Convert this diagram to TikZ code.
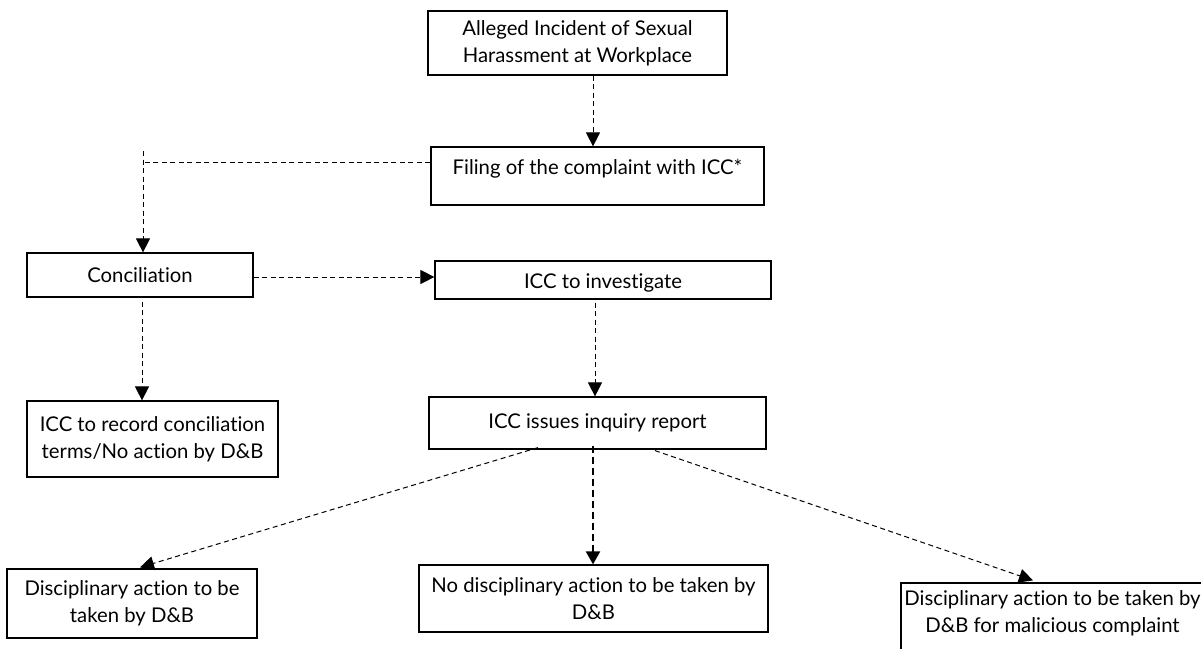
\documentclass[tikz,border=0pt]{standalone}
\usepackage{fontspec}
\setmainfont{Lato}[Ligatures=NoCommon]
\usetikzlibrary{arrows.meta,calc}
\begin{document}
\begin{tikzpicture}[x=1pt,y=-1pt,
  box/.style={draw, line width=1.2pt, rectangle, inner sep=0pt, align=center,
    font=\fontsize{20.3}{27}\selectfont},
  txt/.style={inner sep=0pt, align=center, font=\fontsize{20.3}{27}\selectfont},
  dsh/.style={line width=1pt, dash pattern=on 5pt off 3.5pt},
  arr/.style={dsh, -{Triangle[length=14pt,width=14pt]}},
  arrthick/.style={line width=2pt, dash pattern=on 7pt off 4pt, -{Triangle[length=13pt,width=14pt]}},
]
\useasboundingbox (0,0) rectangle (1201,648);
% boxes
\node[box, minimum width=299pt, minimum height=64pt] (A) at (577.5,43) {Alleged Incident of Sexual\\Harassment at Workplace};
\node[box, minimum width=333pt, minimum height=58pt] (B) at (597.5,176) {};
\node[txt] (Bt) at (597.5,169) {Filing of the complaint with ICC*};
\node[box, minimum width=226pt, minimum height=44pt] (C) at (140,275) {Conciliation};
\node[box, minimum width=336pt, minimum height=38pt] (D) at (603,280) {};
\node[txt] (Dt) at (603,283) {ICC to investigate};
\node[box, minimum width=251pt, minimum height=76pt] (E) at (152.5,439) {ICC to record conciliation\\terms/No action by D\&B};
\node[box, minimum width=337pt, minimum height=52pt] (F) at (597.5,423) {ICC issues inquiry report};
\node[box, minimum width=250pt, minimum height=69pt] (G) at (132,603.5) {Disciplinary action to be\\taken by D\&B};
\node[box, minimum width=349pt, minimum height=67pt] (H) at (593.5,598.5) {No disciplinary action to be taken by\\D\&B};
\node[box, minimum width=400pt, minimum height=90pt] (I) at (1101,628) {};
\node[txt] (It) at (1052.5,613) {Disciplinary action to be taken by\\D\&B for malicious complaint};
% column coordinates
\coordinate (cA) at (593,0);
\coordinate (cL) at (143,0);
\coordinate (cC) at (142,0);
\coordinate (cD) at (595,0);
\coordinate (cH) at (593,0);
\coordinate (g1) at (538,0);
\coordinate (g2) at (140,0);
\coordinate (i1) at (655,0);
\coordinate (i2) at (1033,0);
% connectors
\draw[arr] (A.south -| cA) -- (B.north -| cA);
\coordinate (Bl) at ($(B.north west)!0.28!(B.south west)$);
\draw[dsh] (Bl) -- (Bl -| cL);
\coordinate (vtop) at (143,151);
\draw[arr] (vtop) -- (C.north -| vtop);
\coordinate (Ce) at ($(C.east)+(0,2)$);
\draw[arr] (Ce) -- (Ce -| D.west);
\draw[arr, shorten <=4pt] (C.south -| cC) -- (E.north -| cC);
\draw[arr, shorten <=3pt] (D.south -| cD) -- (F.north -| cD);
\draw[arrthick, shorten <=-4pt] (F.south -| cH) -- (H.north -| cH);
\draw[arr] ($(F.south -| g1)+(0,-2)$) -- ($(G.north -| g2)+(0,-1)$);
\draw[arr] ($(F.south -| i1)+(0,1)$) -- ($(I.north -| i2)+(0,-2)$);
\end{tikzpicture}
\end{document}
